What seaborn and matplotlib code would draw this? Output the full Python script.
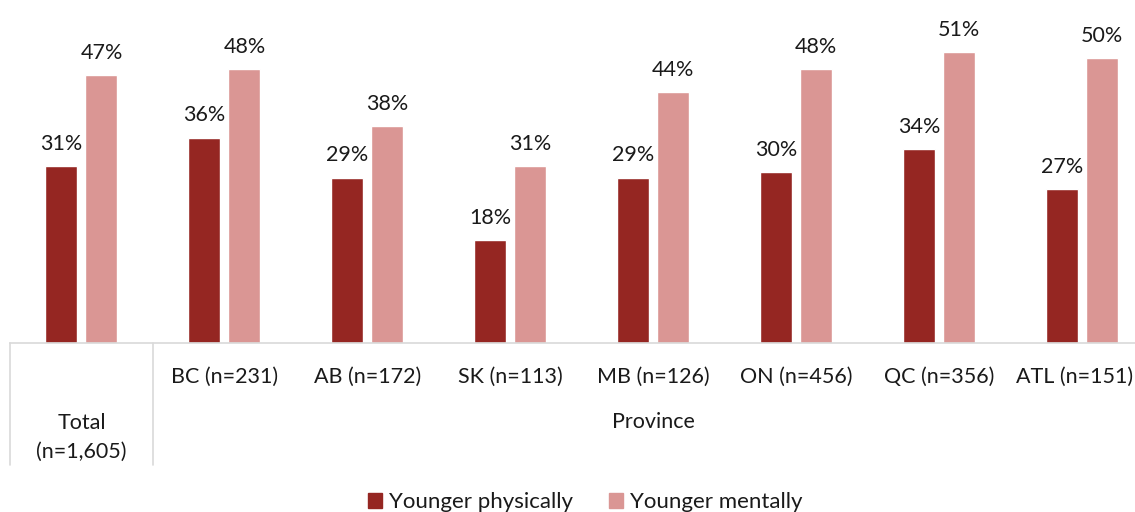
import matplotlib
matplotlib.use("Agg")
import matplotlib.pyplot as plt
import matplotlib.transforms as mtransforms
from matplotlib.lines import Line2D
import pandas as pd
import seaborn as sns

# Share of respondents who feel younger than their age, by region
groups = ["Total", "BC", "AB", "SK", "MB", "ON", "QC", "ATL"]
group_labels = ["Total\n(n=1,605)", "BC (n=231)", "AB (n=172)", "SK (n=113)",
                "MB (n=126)", "ON (n=456)", "QC (n=356)", "ATL (n=151)"]
younger_physically = [31, 36, 29, 18, 29, 30, 34, 27]
younger_mentally = [47, 48, 38, 31, 44, 48, 51, 50]
series_names = ["Younger physically", "Younger mentally"]
colors = ["#952622", "#DA9694"]

df = pd.DataFrame({
    "group": groups * 2,
    "value": younger_physically + younger_mentally,
    "series": [series_names[0]] * len(groups) + [series_names[1]] * len(groups),
})

sns.set_theme(style="white")
plt.rcParams["font.family"] = ["Lato", "DejaVu Sans"]
FS = 15.5
TXT = "#1a1a1a"

W, H = 1135, 512
fig = plt.figure(figsize=(W / 100, H / 100), dpi=100)
ax_left, ax_right, ax_bottom = 10, 1153.5, 343
ax = fig.add_axes([ax_left / W, (H - ax_bottom) / H,
                   (ax_right - ax_left) / W, ax_bottom / H])

sns.barplot(data=df, x="group", y="value", hue="series", order=groups,
            hue_order=series_names, palette=colors, width=0.56, gap=0.2,
            saturation=1, ax=ax, legend=False)

ax.set_xlim(-0.5, len(groups) - 0.5)
ax.set_ylim(0, ax_bottom / 5.7)
for c in ax.containers:
    ax.bar_label(c, fmt="%d%%", padding=9, fontsize=FS, color=TXT)

# Category axis with a two-level layout
for s in ["top", "right", "left"]:
    ax.spines[s].set_visible(False)
ax.spines["bottom"].set_color("#d9d9d9")
ax.spines["bottom"].set_linewidth(1.2)
ax.set_xticks([])
ax.set_yticks([])
ax.set_xlabel("")
ax.set_ylabel("")

trans = mtransforms.blended_transform_factory(ax.transData, ax.transAxes)
px = 1 / ax_bottom  # one pixel in axes-fraction units (vertical)
sep_len = (465 - ax_bottom) * px
for xs in [-0.5, 0.5]:
    ax.add_line(Line2D([xs, xs], [0, -sep_len], transform=trans,
                       color="#d9d9d9", lw=1.2, clip_on=False))

last = len(group_labels) - 1
for i, lab in enumerate(group_labels):
    if i == 0:
        ax.text(i, -(437 - ax_bottom) * px, lab, transform=trans, ha="center",
                va="center", fontsize=FS, color=TXT, linespacing=1.55)
    elif i == last:
        # the last group runs past the canvas edge; keep its label inside
        fig.text(1 - 1.5 / W, (H - 377) / H, lab, ha="right", va="center",
                 fontsize=FS, color=TXT)
    else:
        ax.text(i, -(377 - ax_bottom) * px, lab, transform=trans, ha="center",
                va="center", fontsize=FS, color=TXT)
ax.text(4, -(422 - ax_bottom) * px, "Province", transform=trans, ha="center",
        va="center", fontsize=FS, color=TXT)

handles = [plt.Rectangle((0, 0), 1, 1, color=c) for c in colors]
fig.legend(handles, series_names, loc="center", ncol=2, frameon=False,
           bbox_to_anchor=(585 / W, (H - 502) / H), fontsize=16,
           handlelength=0.65, handleheight=0.65, handletextpad=0.3,
           columnspacing=1.6, labelcolor=TXT)

fig.savefig("out.png", dpi=100)
